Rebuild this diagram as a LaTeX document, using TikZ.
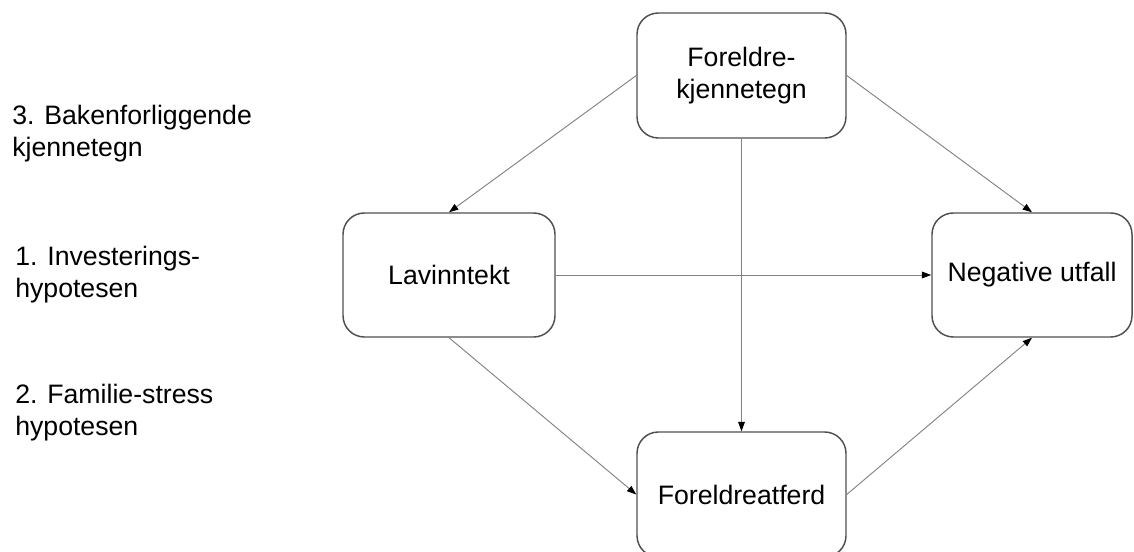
\documentclass[tikz,border=0pt]{standalone}
\usepackage{fontspec}
\setmainfont{Liberation Sans}
\usetikzlibrary{arrows.meta}
\definecolor{boxline}{RGB}{80,80,80}
\definecolor{conline}{RGB}{130,130,130}
\tikzset{
  box/.style={draw=boxline, line width=1.1pt, rounded corners=16pt, fill=white,
    align=center, font=\fontsize{20}{24}\selectfont, inner sep=0pt},
  conn/.style={draw=conline, line width=0.7pt,
    -{Triangle[length=7pt,width=5pt,color=black]}},
  side/.style={align=left, anchor=base west, inner sep=0pt,
    font=\fontsize{20}{24}\selectfont}
}
\begin{document}
\begin{tikzpicture}[x=0.75pt,y=-0.75pt]
\useasboundingbox (0,0) rectangle (1134,552);
\node[box, minimum width=156.75pt, minimum height=93.75pt] (top) at (741.5,75.5) {Foreldre-\\kjennetegn};
\node[box, minimum width=159pt, minimum height=93pt] (lav) at (449,275) {Lavinntekt};
\node[box, minimum width=150pt, minimum height=93pt] (neg) at (1032,275) {Negative utfall};
\node[box, minimum width=156.75pt, minimum height=93.75pt] (bot) at (741.5,494.5) {Foreldreatferd};

\draw[conn] (top.west) -- (lav.north);
\draw[conn] (top.south) -- (bot.north);
\draw[conn] (top.east) -- (neg.north);
\draw[conn] (lav.east) -- (neg.west);
\draw[conn] (lav.south) -- (bot.west);
\draw[conn] (bot.east) -- (neg.south);

\node[side] (t3) at (12,157) {3. Bakenforliggende\\kjennetegn};
\node[side] (t1) at (15,297) {1. Investerings-\\hypotesen};
\node[side] (t2) at (15,435) {2. Familie-stress\\hypotesen};
\end{tikzpicture}
\end{document}
